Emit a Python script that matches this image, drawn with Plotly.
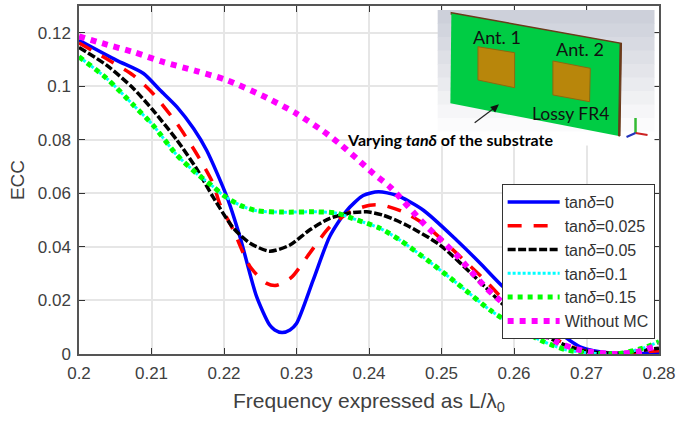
import plotly.graph_objects as go

# ---- data ----
x_blue = [.2, .2052, .2089, .2112, .2135, .2158, .2176, .2204, .2222, .2245, .2263, .2270, .2280, .2291, .2300, .2323, .2346, .2369, .2392, .2413, .2438, .2475, .2521, .2553, .2585, .2645, .2691, .2737, .28]
y_blue = [.1172, .1097, .1048, .0985, .0923, .0842, .0761, .0587, .0438, .0214, .0108, .0090, .0080, .0090, .0114, .0276, .0440, .0535, .0592, .0606, .0593, .0537, .0425, .034, .0251, .0116, .0027, .0003, .0005]
x_red = [.2, .2038, .2075, .2102, .2135, .2162, .2185, .2194, .2213, .2236, .2259, .2273, .2293, .2318, .2346, .2374, .2401, .2419, .2447, .2475, .2521, .2562, .2585, .2645, .2691, .2737, .28]
y_red = [.1162, .1103, .1041, .0973, .0861, .0749, .0637, .0562, .0462, .0326, .0264, .0257, .0286, .0376, .0475, .0531, .0556, .0556, .0531, .0487, .0376, .027, .0205, .0075, .0016, .0002, .0012]
x_black = [.2, .2038, .2075, .2102, .2135, .2162, .2185, .2213, .2236, .2263, .2291, .2318, .2346, .2374, .2397, .2419, .2452, .2498, .2562, .2585, .2645, .2691, .2737, .28]
y_black = [.1145, .1079, .0992, .0911, .0799, .0693, .0586, .047, .0414, .0384, .0407, .0463, .0507, .0527, .0531, .0519, .0481, .0407, .0246, .0185, .0065, .0014, .0002, .0022]
x_green = [.2, .2038, .2075, .2102, .2135, .2162, .2185, .2199, .2222, .2245, .2282, .2328, .2356, .2384, .2415, .2443, .2475, .2521, .2567, .2599, .2636, .2673, .2714, .2746, .2778, .28]
y_green = [.111, .1030, .0930, .0855, .0743, .0675, .0625, .0593, .0556, .0535, .0530, .0531, .0526, .05, .047, .0425, .0362, .0265, .0164, .0108, .0052, .0015, .0002, .0002, .0022, .0046]
x_cyan = list(x_green)
y_cyan = list(y_green)
x_mag = [.2, .2033, .2075, .2116, .2162, .2204, .2259, .2300, .2337, .2360, .2383, .2406, .2429, .2475, .2521, .2562, .2622, .2659, .2691, .2737, .2770, .28]
y_mag = [.1187, .1160, .1128, .1091, .1057, .1023, .0957, .0898, .0832, .0784, .073, .0674, .0624, .0489, .0369, .0246, .0108, .0045, .0015, 0, .0008, .0034]

names = ["tan<i>δ</i>=0", "tan<i>δ</i>=0.025", "tan<i>δ</i>=0.05", "tan<i>δ</i>=0.1", "tan<i>δ</i>=0.15", "Without MC"]
xticks = [.2, .21, .22, .23, .24, .25, .26, .27, .28]
xticklabels = ["0.2", "0.21", "0.22", "0.23", "0.24", "0.25", "0.26", "0.27", "0.28"]
yticks = [0, .02, .04, .06, .08, .1, .12]
yticklabels = ["0", "0.02", "0.04", "0.06", "0.08", "0.1", "0.12"]

L, R, T, B = 79, 659.5, 6, 354
W, H = 677, 424
def px(v): return (v - L) / (R - L)
def py(v): return (B - v) / (B - T)
def path(pts):
    return "M " + " L ".join(f"{px(a):.4f},{py(b):.4f}" for a, b in pts) + " Z"

fig = go.Figure()
series = [
    (x_blue, y_blue, "#0000ff", 3.5, "solid"),
    (x_red, y_red, "#ff0000", 3.5, "14px,12px"),
    (x_black, y_black, "#000000", 3.5, "8px,2.5px"),
    (x_cyan, y_cyan, "#00ffff", 3, "3px,2px"),
    (x_green, y_green, "#00ff00", 5, "5px,5px"),
    (x_mag, y_mag, "#ff00ff", 6, "6px,6px"),
]
for (xs, ys, c, w, d), n in zip(series, names):
    fig.add_trace(go.Scatter(x=xs, y=ys, mode="lines", name=n,
                             line=dict(color=c, width=w, dash=d, shape="spline", smoothing=0.7)))

shapes = []
# inset background: vertical grey to white bands
bands = ["#cdd0da", "#d2d5de", "#d8dae2", "#dee0e6", "#e4e5ea", "#eaebef", "#f0f1f3", "#f6f6f8", "#fbfbfc", "#ffffff"]
top, bot = 10, 145
step = (bot - top) / len(bands)
for i, c in enumerate(bands):
    shapes.append(dict(type="rect", xref="paper", yref="paper", layer="above",
                       x0=px(438), x1=px(655), y0=py(top + i * step), y1=py(top + (i + 1) * step + .5),
                       fillcolor=c, line=dict(width=0)))
def poly(pts, fill, lc=None, lw=0):
    shapes.append(dict(type="path", xref="paper", yref="paper", layer="above", path=path(pts),
                       fillcolor=fill, line=dict(color=lc or fill, width=lw)))
poly([(451.7, 12.7), (621.7, 43.3), (621.7, 44.5), (451.7, 14)], "#6b3a1a", "#6b3a1a", 1.5)
poly([(451.7, 13.5), (621.5, 44), (619.3, 136), (450.7, 103.3)], "#00cc44")
poly([(620.5, 43.5), (622, 43.5), (620.5, 136), (619, 136)], "#6b3a1a", "#6b3a1a", 1)
poly([(478.3, 46.7), (515, 52.7), (515, 87.7), (478.3, 80)], "#b8860b", "#8a6a10", 1)
poly([(553.3, 61), (590.7, 68.3), (590, 101.7), (553.3, 95)], "#b8860b", "#8a6a10", 1)
def seg(x0, y0, x1, y1, c, w=2):
    shapes.append(dict(type="line", xref="paper", yref="paper", layer="above",
                       x0=px(x0), y0=py(y0), x1=px(x1), y1=py(y1), line=dict(color=c, width=w)))
seg(636, 133, 636, 118, "#33bb33", 2.5)
seg(636, 133, 648, 135, "#cc2222", 2)
seg(636, 133, 627, 137, "#2233bb", 2)
seg(475, 122.7, 494, 108.5, "#222222", 1.2)
poly([(499.3, 104.3), (490.5, 107), (495.5, 112.5)], "#111111")

anns = []
def txt(s, x, y, size, color="#111111"):
    anns.append(dict(text=s, xref="paper", yref="paper", x=px(x), y=py(y), showarrow=False,
                     xanchor="center", yanchor="middle", font=dict(family="Lato", size=size, color=color)))
txt("Ant. 1", 497, 37, 18)
txt("Ant. 2", 580, 49, 18)
txt("Lossy FR4", 571, 113, 17.5)
txt("<b>Varying <i>tanδ</i> of the substrate</b>", 450, 139, 16, "#000000")

axis = dict(showline=True, linecolor="#555555", linewidth=1.5, mirror="ticks", ticks="inside",
            ticklen=6, tickcolor="#333333", showgrid=True, gridcolor="#e6e6e6", gridwidth=1.5, zeroline=False,
            ticklabelstandoff=3, automargin=False,
            tickfont=dict(family="Liberation Sans", size=17, color="#404040"))
fig.update_layout(
    width=W, height=H, margin=dict(l=L, r=W - R, t=T, b=H - B, pad=0),
    paper_bgcolor="white", plot_bgcolor="white",
    xaxis=dict(axis, range=[.2, .28], tickmode="array", tickvals=xticks, ticktext=xticklabels,
               title=dict(text="\u00a0\u00a0\u00a0\u00a0Frequency expressed as L/λ<sub>0</sub>", standoff=11,
                          font=dict(family="Liberation Sans", size=21, color="#404040"))),
    yaxis=dict(axis, range=[0, .13], tickmode="array", tickvals=yticks, ticktext=yticklabels,
               title=dict(text="ECC", standoff=8,
                          font=dict(family="Liberation Sans", size=19, color="#404040"))),
    legend=dict(x=px(502), y=py(184), xanchor="left", yanchor="top", bgcolor="white",
                bordercolor="#333333", borderwidth=1, itemwidth=52, tracegroupgap=0,
                font=dict(family="Liberation Sans", size=16, color="#333333")),
    shapes=shapes, annotations=anns, showlegend=True,
)
fig.write_html("out.html", config={"displayModeBar": False},
               post_script="document.body.style.margin='0';document.documentElement.style.overflow='hidden';")
